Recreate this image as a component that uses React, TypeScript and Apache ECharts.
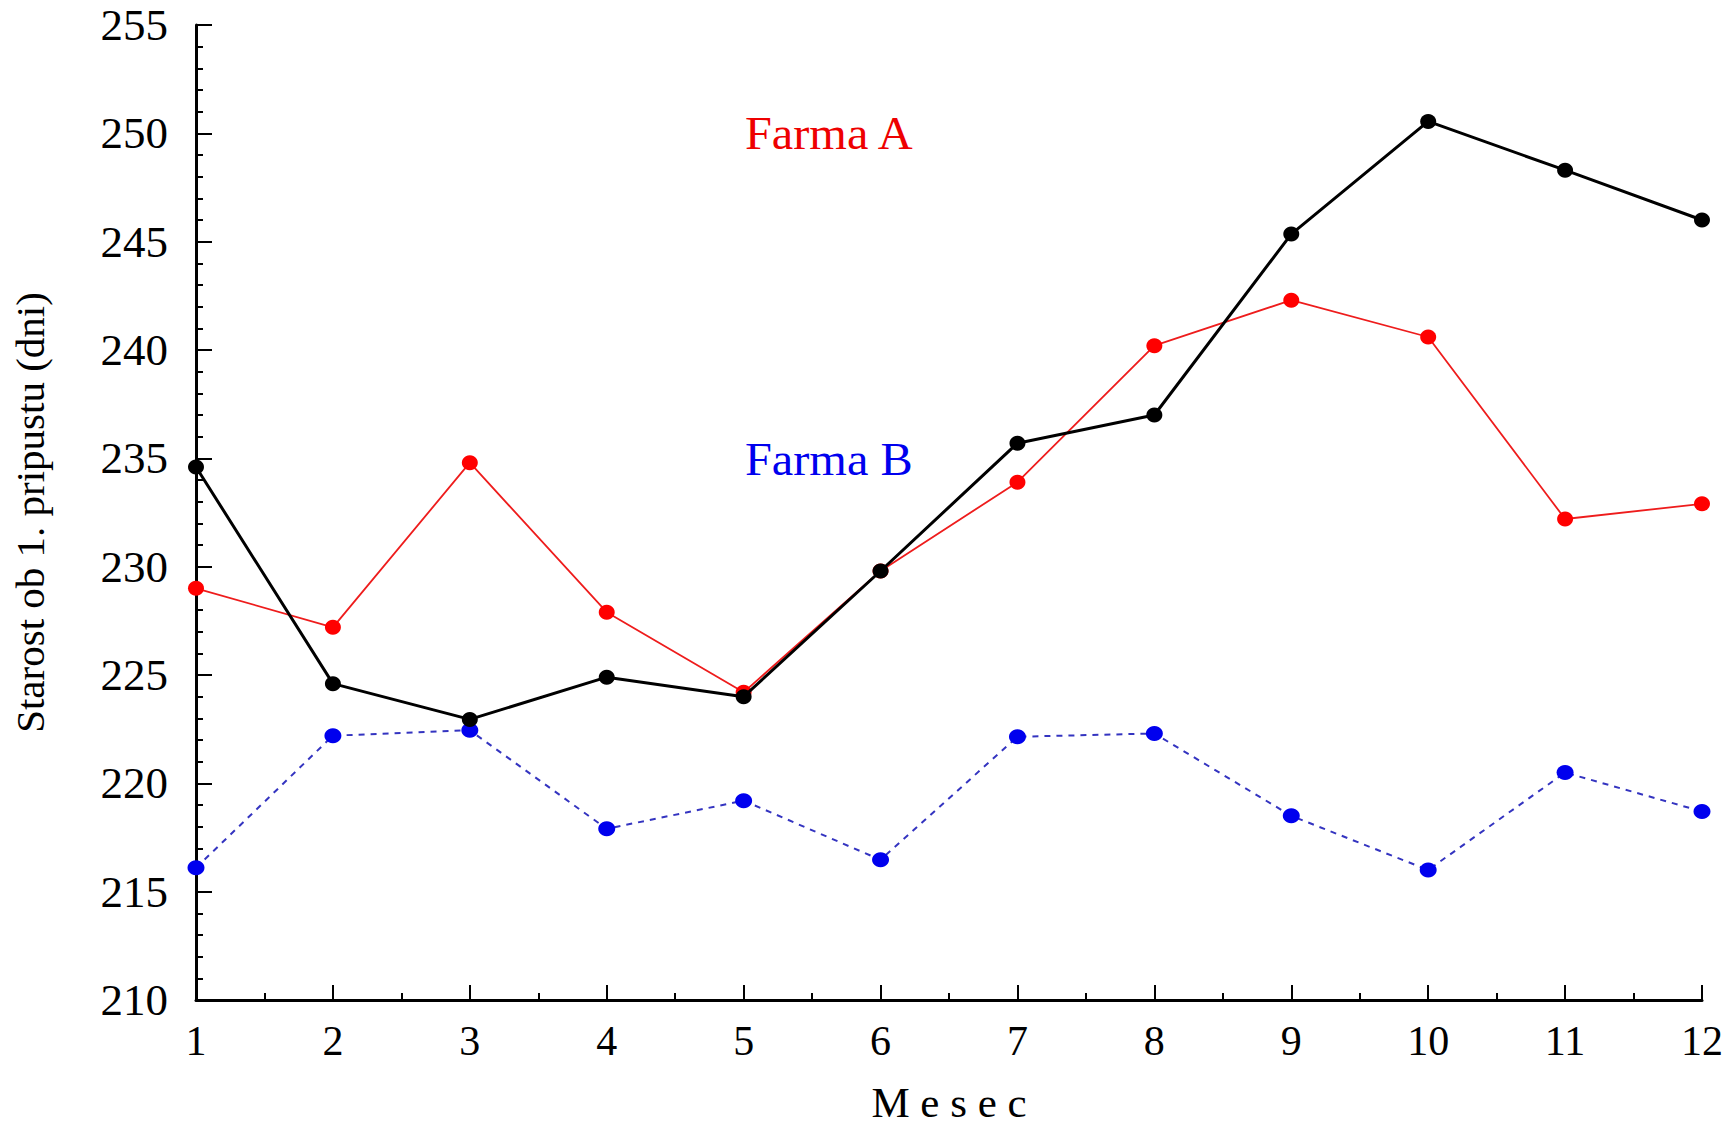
import React, { useEffect, useRef } from "react";
import * as echarts from "echarts";

const months = [1, 2, 3, 4, 5, 6, 7, 8, 9, 10, 11, 12];
const blackSeries = [234.6, 224.6, 222.95, 224.9, 224.0, 229.8, 235.7, 237.0, 245.35, 250.55, 248.3, 246.0];
const redSeries = [229.0, 227.2, 234.8, 227.9, 224.2, 229.8, 233.9, 240.2, 242.3, 240.6, 232.2, 232.9];
const blueSeries = [216.1, 222.2, 222.45, 217.9, 219.2, 216.47, 222.15, 222.3, 218.5, 216.0, 220.5, 218.7];

const yAxisTitle = "Starost ob 1. pripustu (dni)";
const xAxisTitle = "M e s e c";
const labelA = "Farma A";
const labelB = "Farma B";

const FONT = "'Liberation Serif', 'Times New Roman', serif";

export default function App() {
  const ref = useRef<HTMLDivElement>(null);

  useEffect(() => {
    if (!ref.current) return;
    const chart = echarts.init(ref.current, null, { renderer: "svg" });
    const pairs = (vals: number[]) => months.map((m, i) => [m, vals[i]]);

    chart.setOption({
      animation: false,
      backgroundColor: "#ffffff",
      textStyle: { fontFamily: FONT },
      grid: { left: 196, right: 31, top: 25, bottom: 123, containLabel: false },
      xAxis: {
        type: "value",
        min: 1,
        max: 12,
        interval: 1,
        name: xAxisTitle,
        nameLocation: "middle",
        nameGap: 81,
        nameTextStyle: { fontFamily: FONT, fontSize: 43, color: "#000" },
        axisLine: { show: true, onZero: false, lineStyle: { color: "#000", width: 3 } },
        axisTick: { show: true, inside: true, length: 15, lineStyle: { color: "#000", width: 2 } },
        minorTick: { show: true, splitNumber: 2, length: 7, lineStyle: { color: "#000", width: 2 } },
        axisLabel: { fontFamily: FONT, fontSize: 42, color: "#000", margin: 20 },
        splitLine: { show: false },
        minorSplitLine: { show: false },
      },
      yAxis: {
        type: "value",
        min: 210,
        max: 255,
        interval: 5,
        name: yAxisTitle,
        nameLocation: "middle",
        nameGap: 146,
        nameRotate: 90,
        nameTextStyle: { fontFamily: FONT, fontSize: 41, color: "#000" },
        axisLine: { show: true, onZero: false, lineStyle: { color: "#000", width: 3 } },
        axisTick: { show: true, inside: true, length: 16, lineStyle: { color: "#000", width: 2 } },
        minorTick: { show: true, splitNumber: 5, length: 7, lineStyle: { color: "#000", width: 2 } },
        axisLabel: { fontFamily: FONT, fontSize: 45, color: "#000", margin: 28 },
        splitLine: { show: false },
        minorSplitLine: { show: false },
      },
      graphic: [
        {
          type: "text",
          x: 745,
          y: 110,
          scaleX: 1.05,
          style: { text: labelA, fill: "#ee0000", font: `46px ${FONT}` },
        },
        {
          type: "text",
          x: 745,
          y: 436,
          scaleX: 1.05,
          style: { text: labelB, fill: "#0000ee", font: `46px ${FONT}` },
        },
      ],
      series: [
        {
          name: labelB,
          type: "line",
          data: pairs(blueSeries),
          symbol: "circle",
          symbolSize: [17, 15],
          itemStyle: { color: "#0000ee" },
          lineStyle: { color: "#3434c0", width: 2, type: [6, 6] },
          z: 2,
        },
        {
          name: labelA,
          type: "line",
          data: pairs(redSeries),
          symbol: "circle",
          symbolSize: [16, 15],
          itemStyle: { color: "#ff0000" },
          lineStyle: { color: "#ee1c1c", width: 1.8 },
          z: 3,
        },
        {
          name: "Skupaj",
          type: "line",
          data: pairs(blackSeries),
          symbol: "circle",
          symbolSize: [16, 15],
          itemStyle: { color: "#000000" },
          lineStyle: { color: "#000000", width: 3 },
          z: 4,
        },
      ],
    });

    return () => chart.dispose();
  }, []);

  return (
    <div
      ref={ref}
      style={{ position: "fixed", left: 0, top: 0, width: 1733, height: 1129, background: "#fff" }}
    />
  );
}
